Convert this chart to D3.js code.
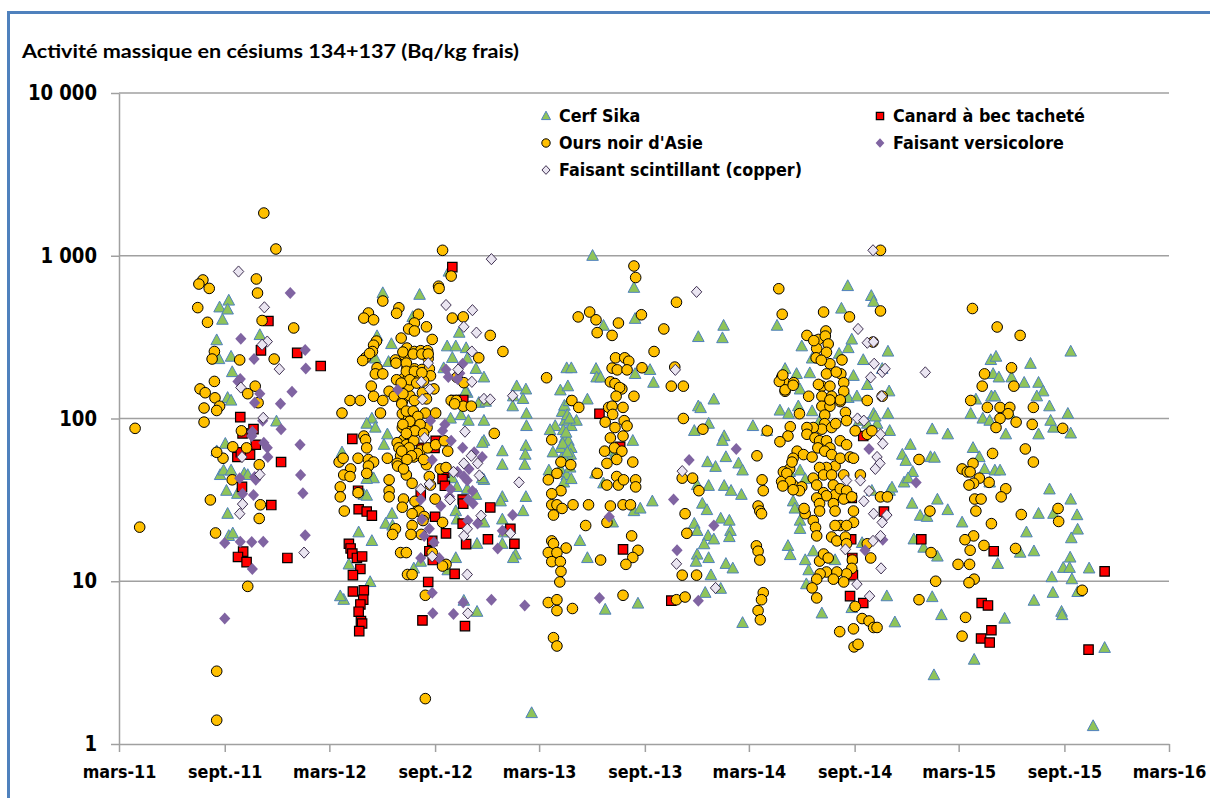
<!DOCTYPE html>
<html><head><meta charset="utf-8">
<script src="https://cdn.jsdelivr.net/npm/d3@7"></script>
<style>body{margin:0;background:#fff}svg{display:block}</style>
</head><body>
<svg id="chart" width="1210" height="798"></svg>
<script>
const chartTitle = "Activité massique en césiums 134+137 (Bq/kg frais)";
const seriesNames = ["Cerf Sika","Canard à bec tacheté","Ours noir d'Asie","Faisant versicolore","Faisant scintillant (copper)"];
const yTickValues = [1,10,100,1000,10000];
const yTickLabels = ["1","10","100","1 000","10 000"];
const xTickDates = ["2011-03-01","2011-09-01","2012-03-01","2012-09-01","2013-03-01","2013-09-01","2014-03-01","2014-09-01","2015-03-01","2015-09-01","2016-03-01"];
const xTickLabels = ["mars-11","sept.-11","mars-12","sept.-12","mars-13","sept.-13","mars-14","sept.-14","mars-15","sept.-15","mars-16"];

const cerfSika = [
["2011-09-08",531],["2011-08-23",482],["2011-09-06",468],["2011-08-28",405],["2011-08-18",303],["2011-11-01",326],["2011-08-22",232],["2011-09-12",240],["2011-09-14",193],["2011-09-06",134],["2011-09-12",129],["2011-11-30",96],["2011-09-02",70],["2011-08-18",63],["2011-08-24",45],["2011-08-30",48],["2011-09-12",48],["2011-10-05",46],["2011-10-11",45],["2011-09-04",36],["2011-09-23",34.5],["2011-09-06",26],["2011-09-08",19],["2011-09-15",19.7],
["2012-09-25",800],["2012-06-02",590],["2012-08-05",576],["2012-07-24",421],["2012-05-23",321],["2012-06-17",287],["2012-10-13",337],["2012-09-22",278],["2012-10-07",278],["2012-10-25",271],["2012-05-20",234],["2012-06-12",223],["2012-09-16",204],["2012-10-01",236],["2012-10-27",234],["2012-11-11",202],["2012-11-25",179],["2012-10-27",144],["2012-10-24",147],["2012-11-16",125],["2012-11-28",127],["2013-01-21",158],["2013-02-06",151],["2013-01-15",137],["2013-02-01",132],["2013-01-14",119],["2013-02-07",107],["2012-05-14",100],["2012-05-05",93],["2012-05-20",88],["2012-06-04",69],["2012-06-10",80],["2012-10-16",105],["2012-09-28",100],["2012-10-29",97],["2012-11-25",97],["2013-02-07",90],["2012-12-27",63],["2013-02-06",68],["2013-02-05",60],["2013-02-04",52],["2012-12-27",52],["2012-11-25",73],["2012-11-22",71],["2012-03-23",62],["2012-05-11",45],["2012-05-17",43],["2012-05-05",42.6],["2012-04-30",34],["2012-05-05",33.6],["2012-10-01",43],["2012-10-09",38],["2012-10-27",37],["2012-11-11",34],["2012-11-25",42],["2012-11-22",43],["2012-12-27",33],["2012-12-24",31],["2013-02-06",33],["2013-02-01",27],["2012-10-07",27],["2012-11-25",23],["2012-12-27",24],["2012-12-30",20],["2012-10-09",24],["2012-06-18",26],["2012-06-07",22.6],["2012-06-19",22],["2012-04-21",20],["2012-05-14",17.7],["2012-04-04",12.7],["2012-12-27",17],["2013-01-19",14.6],["2013-01-15",13.9],["2012-10-07",13.9],["2012-11-13",17],["2012-09-23",11.7],["2012-03-26",7.7],["2012-03-20",8.1],["2012-05-11",9.9],["2012-11-13",6.5],["2012-10-21",7.6],["2013-02-16",1.55],["2012-07-26",12],["2012-08-07",13.2],
["2013-06-02",1000],["2013-08-13",636],["2013-08-15",410],["2013-06-21",372],["2013-12-03",317],["2013-04-18",204],["2013-04-26",204],["2013-06-08",202],["2013-06-09",179],["2013-06-16",179],["2013-08-15",188],["2013-09-10",199],["2013-09-16",166],["2013-04-07",149],["2013-04-20",158],["2013-05-24",131],["2013-03-29",90],["2013-04-15",97],["2013-04-26",90],["2013-05-05",97],["2013-04-15",76],["2013-04-21",73],["2013-04-26",66],["2013-04-07",66],["2013-04-25",60],["2013-04-07",49],["2013-04-18",45],["2013-04-13",40.5],["2013-04-26",42.5],["2013-06-07",46],["2013-06-21",40],["2013-08-11",73],["2013-07-08",63],["2013-07-11",60],["2013-09-14",31],["2013-08-13",27],["2013-08-24",28],["2013-07-07",23],["2013-05-11",17.7],["2013-05-24",13.9],["2013-06-24",6.7],["2013-08-20",7.3],["2013-12-03",119],["2013-11-26",84],["2013-12-01",39],["2013-11-26",22.6],["2013-12-01",20.4],["2013-12-01",14.6],["2013-11-29",13.2],
["2013-04-10",110],["2013-04-14",120],["2013-04-19",105],["2013-04-22",128],["2013-04-12",85],["2013-04-17",82],["2013-04-23",100],["2013-04-09",57],["2013-04-16",55],["2013-04-24",50],["2013-04-11",70],["2013-04-19",62],["2013-03-20",85],["2013-03-25",62],["2013-03-18",48],
["2014-08-20",652],["2014-09-30",567],["2014-10-04",522],["2014-08-09",474],["2014-04-19",372],["2014-01-16",372],["2014-01-14",312],["2014-06-01",278],["2014-06-19",234],["2014-08-21",271],["2014-08-27",306],["2014-09-16",229],["2014-08-30",183],["2014-09-23",161],["2014-10-29",258],["2014-10-19",202],["2014-10-31",147],["2014-05-03",202],["2014-05-23",188],["2014-05-29",151],["2014-04-24",112],["2014-05-09",107],["2014-05-26",119],["2014-08-21",134],["2014-09-05",137],["2014-10-04",107],["2014-10-29",107],["2014-11-01",84],["2014-10-10",93],["2014-09-09",97],["2014-09-23",93],["2013-12-30",131],["2013-12-07",116],["2013-12-21",93],["2014-03-08",90],["2014-04-01",84],["2014-01-17",78],["2014-01-14",73],["2014-01-20",58],["2014-01-02",50.5],["2013-12-19",54],["2013-12-21",38.6],["2014-01-17",38.6],["2014-01-29",36],["2014-02-16",34],["2013-12-10",30],["2013-12-18",27.4],["2014-01-11",24.3],["2014-01-26",23.6],["2014-01-28",20.4],["2013-12-20",19],["2013-12-30",18.1],["2013-12-13",16.9],["2014-01-26",18.7],["2013-12-21",13.9],["2014-01-20",12.8],["2014-02-01",12],["2013-12-25",10.9],["2013-12-15",8.5],["2014-01-11",9],["2014-02-18",5.55],["2014-05-17",31],["2014-05-29",23.6],["2014-05-08",16.5],["2014-06-07",13.5],["2014-06-21",15.3],["2014-07-29",13.5],["2014-07-06",6.35],["2014-08-27",6.85],["2014-10-27",8.1],["2014-11-10",5.6],["2014-12-13",18.1],["2014-12-10",30],["2014-11-26",40.5],["2014-12-11",47],["2014-11-23",60],["2014-12-07",69],["2014-05-11",47],["2014-05-29",48],["2014-06-07",42.5],["2014-02-11",53],["2014-02-18",48],
["2014-07-01",95],["2014-06-15",190],["2014-08-05",250],["2014-06-19",111],["2014-10-07",103],["2014-11-29",55],["2014-12-03",43],["2014-11-01",36],["2014-10-01",36],["2014-05-20",28],["2014-05-29",21],["2014-05-12",14.5],["2014-06-13",11.7],["2014-06-09",9.6],["2014-09-14",17.2],
["2015-04-26",229],["2015-05-05",240],["2015-07-04",217],["2015-04-30",188],["2015-05-10",179],["2015-06-01",179],["2015-06-23",166],["2015-07-18",166],["2015-07-26",147],["2015-07-15",137],["2015-08-06",119],["2015-09-07",107],["2015-04-27",137],["2015-05-03",137],["2015-03-31",131],["2015-03-22",107],["2015-04-12",100],["2015-04-24",97],["2015-05-29",107],["2015-05-22",80],["2015-07-18",80],["2015-08-13",88],["2015-09-12",81],["2015-08-08",97],["2015-09-12",258],["2015-01-14",86],["2015-02-10",80],["2015-01-11",58],["2015-01-18",57.5],["2014-11-05",37.7],["2015-01-23",31.8],["2015-02-10",27.4],["2014-12-24",25.3],["2015-01-05",24.9],["2014-12-30",16.1],["2015-01-23",14.2],["2015-03-07",23],["2015-03-26",66],["2015-04-06",58],["2015-04-15",49],["2015-05-03",48],["2015-04-24",40.5],["2015-05-12",48],["2015-07-18",26],["2015-08-06",36.7],["2015-08-13",26],["2015-09-12",31.8],["2015-09-23",25.5],["2015-09-24",20.8],["2015-09-13",18.4],["2015-06-27",20],["2015-07-10",15.3],["2015-06-16",15],["2015-05-08",12.8],["2015-08-30",12.1],["2015-09-11",14],["2015-09-10",12.1],["2015-10-14",12],["2015-09-14",10.3],["2015-08-10",10.6],["2015-01-14",8],["2015-01-30",6.2],["2015-05-20",5.9],["2015-07-10",7.6],["2015-08-12",8.5],["2015-08-27",6.5],["2015-08-28",6.2],["2015-09-24",8.6],["2015-03-28",3.3],["2015-01-17",2.65],["2015-10-21",1.29],["2015-11-10",3.9]
];

const canard = [
["2011-11-16",397],["2011-11-03",262],["2012-01-05",253],["2012-02-15",210],["2011-09-28",102],["2011-10-21",86],["2011-10-02",81],["2011-10-25",69],["2011-10-15",60],["2011-09-23",58],["2011-09-29",62],["2011-12-08",54],["2011-10-01",38],["2011-11-21",29.4],["2011-10-03",15.2],["2011-09-24",14.1],["2011-10-09",13.1],["2011-12-19",13.9],
["2012-10-01",851],["2012-04-10",75],["2012-04-20",36],["2012-04-21",27.7],["2012-05-05",26.8],["2012-05-14",25.3],["2012-04-04",17],["2012-04-07",15.9],["2012-04-10",14.8],["2012-04-18",13.9],["2012-04-27",14.2],["2012-04-24",11.9],["2012-04-11",10.9],["2012-04-11",8.65],["2012-04-30",8.8],["2012-04-29",7.7],["2012-04-24",7.2],["2012-04-21",6.5],["2012-04-25",5.7],["2012-04-27",5.5],["2012-04-22",4.94],["2012-08-10",5.75],["2012-08-20",9.9],["2012-09-01",24.9],["2012-09-20",19.7],["2012-08-27",17.7],["2012-08-22",15.3],["2012-08-28",13.5],["2012-09-17",46.5],["2012-09-14",42.5],["2012-09-18",38.6],["2012-10-19",31.8],["2012-10-20",30],["2012-10-19",22.6],["2012-10-25",16.9],["2012-10-05",11.1],["2012-12-06",28.4],["2012-12-02",18.1],["2013-01-10",21],["2013-01-17",17],["2012-10-23",5.3],["2012-09-02",73],["2012-08-07",34],["2012-08-08",66],["2012-08-31",66],["2012-10-20",130],["2012-10-06",130],
["2013-06-14",107],["2013-07-25",15.7],["2013-10-17",7.6],["2013-07-20",67],
["2014-09-16",78],["2014-08-27",32.5],["2014-10-22",26.8],["2014-08-26",18.1],["2014-08-28",13.9],["2014-08-29",10.9],["2014-08-24",8.1],["2014-09-16",7.35],["2014-12-26",18.1],
["2015-05-01",15.3],["2015-04-10",7.35],["2015-04-21",7.1],["2015-04-27",5.0],["2015-04-09",4.45],["2015-04-24",4.2],["2015-10-13",3.8],["2015-11-10",11.5]
];

const oursNoir = [
["2011-11-08",1830],["2011-11-29",1100],["2011-07-25",710],["2011-07-18",670],["2011-08-05",630],["2011-07-16",480],["2011-08-02",390],["2011-10-26",720],["2011-10-28",590],["2011-11-05",400],["2011-12-30",360],["2011-11-26",232],["2011-09-27",229],["2011-08-14",258],["2011-08-10",232],["2011-08-14",169],["2011-07-20",152],["2011-07-29",144],["2011-08-15",134],["2011-08-23",119],["2011-08-18",112],["2011-07-27",116],["2011-07-27",95],["2011-10-24",158],["2011-10-11",142],["2011-10-29",125],["2011-03-29",87],["2011-04-06",21.5],["2011-09-30",84],["2011-09-15",67],["2011-10-09",66],["2011-08-29",57],["2011-08-18",62],["2011-10-31",52],["2011-09-14",42],["2011-08-07",31.6],["2011-11-02",29.5],["2011-10-31",24.3],["2011-08-16",19.8],["2011-10-11",9.3],["2011-08-18",2.8],["2011-08-18",1.4],
["2012-09-14",1080],["2012-09-29",750],["2012-09-07",650],["2012-09-08",630],["2012-06-02",527],["2012-06-30",479],["2012-06-26",443],["2012-05-08",445],["2012-04-30",414],["2012-05-17",404],["2012-08-03",437],["2012-07-27",386],["2012-07-17",355],["2012-07-27",345],["2012-08-17",366],["2012-10-01",414],["2012-10-20",421],["2012-08-27",306],["2012-07-04",312],["2012-12-06",324],["2012-12-28",258],["2012-05-22",299],["2012-05-17",282],["2012-05-15",258],["2012-05-03",236],["2012-07-14",271],["2012-07-27",258],["2012-08-07",261],["2012-08-19",261],["2012-06-24",229],["2012-07-10",244],["2012-08-20",234],["2012-05-23",205],["2012-05-20",188],["2012-06-02",188],["2012-07-14",204],["2012-07-08",176],["2012-07-16",175],["2012-07-27",202],["2012-08-09",200],["2012-08-22",202],["2012-08-24",183],["2012-08-12",170],["2012-07-29",183],["2012-11-16",236],["2012-10-09",179],["2012-10-21",166],["2012-05-13",158],["2012-05-17",137],["2012-06-02",129],["2012-06-13",147],["2012-06-22",137],["2012-07-06",127],["2012-07-03",151],["2012-07-19",138],["2012-07-17",158],["2012-07-27",129],["2012-04-06",129],["2012-04-24",129],["2012-03-23",108],["2012-05-29",108],["2012-08-10",144],["2012-08-17",132],["2012-08-30",152],["2012-09-29",129],["2012-10-08",129],["2012-10-20",119],["2012-11-03",119],["2012-07-06",107],["2012-07-17",100],["2012-08-01",95],["2012-08-15",108],["2012-09-02",108],["2012-04-30",78],["2012-07-06",88],["2012-07-20",86],["2012-08-04",90],["2012-08-18",88],["2012-07-08",74],["2012-06-27",71],["2012-07-13",69],["2012-07-26",73],["2012-08-07",64],["2012-08-19",66],["2012-09-02",69],["2012-09-17",73],["2012-09-23",63],["2012-12-13",81],["2012-06-10",57],["2012-06-30",66],["2012-07-03",59],["2012-07-14",62],["2012-07-26",58],["2012-08-01",61],["2012-03-18",54],["2012-03-25",57],["2012-04-20",57],["2012-05-08",56],["2012-05-17",54],["2012-05-08",51],["2012-04-07",49],["2012-03-26",45],["2012-04-06",44],["2012-03-20",38],["2012-03-20",33],["2012-04-20",35],["2012-03-27",27],["2012-06-27",53],["2012-07-13",45],["2012-07-23",40],["2012-08-22",44],["2012-08-17",52],["2012-09-10",49],["2012-09-20",50],["2012-08-24",39],["2012-06-13",42],["2012-06-13",36],["2012-07-08",32],["2012-07-28",31],["2012-08-01",27],["2012-08-04",27],["2012-08-13",25],["2012-09-01",32],["2012-06-24",21],["2012-07-23",22],["2012-09-14",23],["2012-07-03",15],["2012-07-13",15],["2012-07-15",11],["2012-07-23",11],["2012-08-27",15],["2012-09-20",12.7],["2012-09-14",12.4],["2012-08-15",8.2],["2012-08-15",1.9],
["2012-06-25",219],["2012-07-07",256],["2012-07-13",219],["2012-07-25",249],["2012-08-09",249],["2012-08-20",249],["2012-07-13",195],["2012-07-27",195],["2012-08-09",191],["2012-07-19",173],["2012-06-26",173],["2012-07-04",165],["2012-07-31",165],["2012-05-10",251],["2012-04-28",227],["2012-07-07",142],["2012-07-05",123],["2012-07-13",111],["2012-07-25",111],["2012-08-02",103],["2012-07-19",96],["2012-07-07",92],["2012-08-06",92],["2012-07-28",84],["2012-07-13",81],["2012-08-12",81],["2012-07-18",66],["2012-07-05",63],["2012-07-22",59],["2012-07-14",56],["2012-08-12",56],["2012-06-28",51],["2012-07-08",49],["2012-05-05",46],["2012-06-13",33],["2012-07-06",28.5],["2012-07-23",26],["2012-08-11",23.6],["2012-08-08",19.4],["2012-06-19",19.4],["2012-07-21",19.4],["2012-10-05",123],["2012-05-03",74],["2012-05-05",66],
["2013-08-13",865],["2013-08-16",735],["2013-10-26",518],["2013-05-08",421],["2013-05-28",451],["2013-06-08",404],["2013-07-17",386],["2013-06-10",337],["2013-07-06",324],["2013-08-26",434],["2013-10-04",355],["2013-09-17",258],["2013-03-14",178],["2013-07-12",236],["2013-07-28",236],["2013-08-04",225],["2013-07-06",204],["2013-07-15",199],["2013-08-01",199],["2013-08-27",205],["2013-07-03",168],["2013-07-11",164],["2013-07-23",152],["2013-07-19",155],["2013-07-13",137],["2013-08-13",137],["2013-10-17",158],["2013-11-07",158],["2013-10-23",207],["2013-04-27",129],["2013-05-09",117],["2013-06-30",117],["2013-07-06",119],["2013-07-25",117],["2013-07-07",106],["2013-06-24",95],["2013-07-27",97],["2013-08-01",90],["2013-07-25",78],["2013-07-03",76],["2013-07-11",88],["2013-11-07",100],["2013-12-11",86],["2013-03-23",74],["2013-06-23",63],["2013-07-10",66],["2013-07-23",63],["2013-07-14",56],["2013-06-27",53],["2013-08-11",54],["2013-04-08",54],["2013-04-25",52],["2013-04-01",46],["2013-03-17",42],["2013-04-08",36],["2013-03-23",34.5],["2013-06-10",46],["2013-06-27",39],["2013-07-14",44],["2013-07-17",39],["2013-07-26",42],["2013-08-16",42],["2013-08-16",38],["2013-03-23",29.5],["2013-04-01",29.5],["2013-04-10",28],["2013-04-29",29.5],["2013-05-26",29.5],["2013-03-26",25.5],["2013-07-03",29],["2013-07-25",29.5],["2013-08-07",29.5],["2013-11-05",43],["2013-11-23",43],["2013-12-04",36],["2013-11-10",26],["2013-11-13",19.7],["2013-05-21",22],["2013-06-27",23],["2013-08-09",19],["2013-08-20",15.5],["2013-08-11",14],["2013-07-30",12.7],["2013-06-16",13.5],["2013-03-23",17.7],["2013-03-26",17],["2013-04-17",16],["2013-03-17",15],["2013-04-01",15],["2013-03-23",13.2],["2013-04-07",13.2],["2013-04-08",11.5],["2013-04-06",9.9],["2013-03-17",7.4],["2013-04-01",7.7],["2013-04-01",6.6],["2013-04-28",6.8],["2013-03-26",4.5],["2013-04-01",4.0],["2013-07-25",8.2],["2013-10-26",7.7],["2013-11-10",8],["2013-11-05",10.9],["2013-11-30",10.9],
["2014-10-16",1080],["2014-04-22",627],["2014-04-28",437],["2014-07-09",451],["2014-08-23",421],["2014-10-16",458],["2014-06-10",324],["2014-06-30",306],["2014-07-13",345],["2014-07-12",321],["2014-07-17",287],["2014-06-27",269],["2014-06-26",236],["2014-10-03",295],["2014-08-10",229],["2014-07-20",217],["2014-07-14",188],["2014-08-08",188],["2014-08-13",166],["2014-07-06",158],["2014-07-20",158],["2014-08-13",147],["2014-07-06",137],["2014-07-23",137],["2014-07-06",119],["2014-07-20",119],["2014-08-07",127],["2014-04-27",179],["2014-05-03",166],["2014-05-18",166],["2014-05-03",147],["2014-06-13",137],["2014-05-28",107],["2014-09-23",129],["2014-10-19",137],["2014-08-16",109],["2014-08-18",97],["2014-07-11",105],["2014-07-11",93],["2014-07-06",86],["2014-07-23",88],["2014-07-30",93],["2014-06-21",88],["2014-06-10",88],["2014-06-10",80],["2014-06-24",76],["2014-07-02",73],["2014-07-14",73],["2014-07-20",66],["2014-08-07",73],["2014-08-18",69],["2014-09-02",84],["2014-09-23",80],["2014-10-01",84],["2014-05-12",89],["2014-05-08",78],["2014-04-24",72],["2014-04-02",84],["2014-03-15",59],["2014-05-24",63],["2014-06-04",60],["2014-06-19",58],["2014-06-29",66],["2014-07-11",63],["2014-07-23",60],["2014-07-29",51],["2014-07-14",50],["2014-07-02",50],["2014-06-21",43],["2014-07-09",45],["2014-07-23",45],["2014-08-07",57],["2014-08-13",45],["2014-08-24",58],["2014-08-30",57],["2014-09-11",45],["2014-05-17",57],["2014-05-11",49],["2014-04-30",47],["2014-04-27",41],["2014-05-17",39],["2014-06-01",38],["2014-06-27",39],["2014-07-09",35],["2014-07-26",39],["2014-07-29",34],["2014-08-07",37],["2014-08-18",36],["2014-07-14",33.5],["2014-06-27",32.5],["2014-07-02",30],["2014-07-26",30],["2014-07-29",27],["2014-08-13",32],["2014-08-27",33],["2014-08-30",27],["2014-08-30",23],["2014-08-07",22],["2014-08-18",22],["2014-07-29",22],["2014-07-02",27],["2014-06-21",23.6],["2014-06-25",21.4],["2014-06-27",19],["2014-07-23",18.7],["2014-08-01",17.7],["2014-08-16",18.7],["2014-08-18",17],["2014-08-28",13.5],["2014-08-27",12],["2014-08-18",11.1],["2014-08-13",9.9],["2014-08-01",11.4],["2014-07-14",11.4],["2014-07-02",13.3],["2014-07-03",11.1],["2014-07-09",14.7],["2014-07-17",13.9],["2014-07-26",10.3],["2014-06-27",10.3],["2014-06-19",9.1],["2014-06-27",7.9],["2014-06-07",26],["2014-06-05",28],["2014-09-29",13.9],["2014-09-02",7],["2014-09-14",5.9],["2014-09-26",5.7],["2014-10-04",5.2],["2014-10-10",5.2],["2014-08-30",5.1],["2014-08-06",4.9],["2014-08-31",3.95],["2014-09-07",4.1],["2014-03-17",29],["2014-03-20",27],["2014-03-23",26],["2014-03-14",16.5],["2014-03-17",15.3],["2014-03-20",13.5],["2014-03-26",8.5],["2014-03-23",7.7],["2014-03-17",6.6],["2014-03-21",5.8],["2014-03-24",42],["2014-03-26",36],["2014-10-16",33],["2014-10-28",33],["2014-12-22",56],["2014-12-22",7.7],["2014-09-23",17],
["2014-06-22",301],["2014-07-14",255],["2014-07-31",193],["2014-06-30",162],["2014-08-07",130],["2014-07-05",228],["2014-07-20",130],["2014-04-23",169],["2014-05-03",150],["2014-05-17",160],["2014-04-29",185],["2014-05-15",54],["2014-05-06",46],["2014-05-12",41],["2014-05-28",36],["2014-05-17",36.5],["2014-04-29",38.5],
["2015-03-25",474],["2015-05-07",365],["2015-06-16",324],["2015-04-15",188],["2015-04-11",158],["2015-06-01",205],["2015-06-05",158],["2015-03-22",129],["2015-04-20",117],["2015-05-12",117],["2015-05-29",117],["2015-05-26",107],["2015-05-12",100],["2015-05-05",88],["2015-06-09",95],["2015-07-09",117],["2015-07-07",92],["2015-08-29",87],["2015-04-29",61],["2015-03-26",53],["2015-03-07",49],["2015-03-16",47],["2015-03-21",47],["2015-04-06",43],["2015-03-27",40],["2015-03-19",39],["2015-04-23",40.5],["2015-05-22",37],["2015-05-14",33],["2015-03-29",32],["2015-04-09",32],["2015-03-31",27],["2015-06-25",65],["2015-07-09",54],["2015-01-10",27],["2015-01-12",15],["2015-01-20",10],["2015-03-27",19],["2015-03-12",18],["2015-03-21",15.5],["2015-04-14",16.6],["2015-04-27",22.6],["2015-02-28",12.7],["2015-03-20",12.7],["2015-03-28",10.3],["2015-03-19",9.8],["2015-03-13",6],["2015-03-07",4.6],["2015-06-08",15.9],["2015-06-18",25.7],["2015-08-21",28],["2015-08-22",23.3],["2015-10-02",8.8]
];

const faisantVersicolore = [
["2011-12-24",590],["2011-09-29",309],["2012-01-19",264],["2011-10-22",232],["2012-01-20",203],["2011-09-28",175],["2011-09-24",169],["2011-11-01",142],["2011-10-23",125],["2011-12-27",146],["2011-12-07",123],["2011-11-06",97],["2011-12-08",86],["2011-10-19",83],["2011-10-18",78],["2011-11-08",71],["2011-11-14",66],["2011-11-15",58],["2012-01-10",69],["2012-01-11",45],["2012-01-15",34.7],["2011-09-27",43],["2011-10-23",43.7],["2011-10-25",42],["2011-10-02",34.5],["2011-10-21",33.9],["2012-01-19",19.2],["2011-09-01",17.2],["2011-09-28",17.5],["2011-10-18",17.4],["2011-11-07",17.5],["2011-10-19",11.9],["2011-09-01",5.9],
["2012-10-19",217],["2012-06-28",150],["2012-08-24",97],["2012-09-18",92],["2012-09-14",84],["2012-09-29",73],["2012-10-19",66],["2012-11-08",62],["2012-11-22",58],["2012-08-27",55.6],["2012-10-10",47],["2012-10-30",49],["2012-10-27",41.6],["2012-11-05",35.8],["2012-10-29",31.8],["2012-11-06",30],["2012-08-07",31.8],["2012-09-11",29],["2012-09-28",36.7],["2012-11-14",22.6],["2012-10-28",23.6],["2012-12-19",15.9],["2013-01-14",25.5],["2012-12-27",20.4],["2012-08-13",19],["2012-08-22",21],["2012-08-30",17.3],["2012-08-07",13.9],["2012-09-08",13.9],["2012-08-27",8.5],["2012-08-28",6.35],["2012-10-03",6.3],["2012-10-20",7.4],["2012-12-08",7.7],["2013-02-04",7.1],
["2012-09-20",200],["2012-10-10",175],["2012-10-14",190],["2012-09-24",180],["2012-10-21",44],["2012-09-26",33],["2012-08-09",24],
["2013-06-14",7.9],["2013-10-21",31.8],["2013-10-27",15.5],["2013-11-17",55.6],["2013-12-03",7.6],["2013-12-30",22],["2013-07-01",24.9],
["2014-02-07",65],["2014-09-26",65],["2014-10-20",18],["2014-09-19",15.5],["2014-12-17",40.5]
];

const faisantScintillant = [
["2011-09-25",800],["2011-11-09",482],["2011-11-14",297],["2011-11-05",284],["2011-12-05",201],["2011-09-29",155],["2011-11-07",101],["2011-10-01",58],["2011-11-01",45.3],["2011-10-02",29.8],["2011-09-27",26],["2012-01-17",15],
["2012-12-08",953],["2012-09-20",498],["2012-11-05",463],["2012-10-21",366],["2012-11-12",337],["2012-11-04",258],["2012-10-11",200],["2012-11-04",168],["2012-11-25",132],["2012-12-06",131],["2013-01-14",138],["2012-08-20",219],["2012-08-08",168],["2012-08-23",151],["2012-08-10",131],["2012-10-23",83],["2012-08-14",76],["2012-11-03",59],["2012-11-14",53],["2012-10-21",53],["2012-11-17",44.7],["2012-10-03",47],["2012-08-22",39.6],["2013-01-25",40.5],["2012-09-27",31.8],["2012-11-20",25.3],["2012-08-07",36.8],["2012-10-27",21],["2012-10-21",19],["2013-01-10",19.7],["2012-08-27",14.2],["2012-10-27",11],["2012-10-28",6.35],
["2013-11-30",600],["2013-10-24",199],["2013-11-05",47.5],["2013-10-26",12.8],["2014-01-02",9.1],
["2014-10-03",1080],["2014-09-07",355],["2014-09-23",292],["2014-10-04",296],["2014-10-05",217],["2014-09-29",179],["2014-10-19",193],["2014-10-24",202],["2014-09-06",100],["2014-09-17",97],["2014-10-16",80],["2014-10-20",70],["2014-10-10",58],["2014-10-15",53],["2014-10-07",49],["2014-08-18",41.6],["2014-09-11",41.6],["2014-09-26",35.8],["2014-09-17",31],["2014-10-04",26],["2014-10-19",23],["2014-10-27",25.5],["2014-10-16",19],["2014-10-03",17.7],["2014-08-16",15.7],["2014-10-17",12],["2014-09-05",9.6],["2014-09-27",8.1],["2015-01-02",192],["2014-10-18",137]
];

const parseDate = d3.timeParse("%Y-%m-%d");
const svg = d3.select("#chart");
const W = 1210, H = 798;
const pLeft = 119, pRight = 1169, pTop = 93, pBottom = 744;

const x = d3.scaleTime().domain([parseDate(xTickDates[0]), parseDate(xTickDates[xTickDates.length-1])]).range([pLeft, pRight]);
const y = d3.scaleLog().domain([1, 10000]).range([pBottom, pTop]);

svg.append("rect").attr("width", W).attr("height", H).attr("fill", "#fff");
svg.append("rect").attr("x", 8.5).attr("y", 12.5).attr("width", W + 20).attr("height", H + 20)
  .attr("fill", "none").attr("stroke", "#4F81BD").attr("stroke-width", 3);

svg.append("text").attr("x", 22).attr("y", 58).text(chartTitle)
  .attr("font-family", "Lato, 'Open Sans', sans-serif").attr("font-weight", "bold")
  .attr("font-size", 18.5).attr("fill", "#000")
  .attr("textLength", 497).attr("lengthAdjust", "spacingAndGlyphs");

const gray = "#A0A0A0";
svg.append("g").selectAll("line").data(yTickValues.filter(v => v > 1)).join("line")
  .attr("x1", pLeft).attr("x2", pRight)
  .attr("y1", d => y(d)).attr("y2", d => y(d))
  .attr("stroke", gray).attr("stroke-width", 1.5);

const yAxis = d3.axisLeft(y).tickValues(yTickValues)
  .tickFormat((d, i) => yTickLabels[i]).tickSizeInner(8).tickSizeOuter(0).tickPadding(14);
const gy = svg.append("g").attr("transform", `translate(${pLeft},0)`).call(yAxis);
gy.select(".domain").attr("stroke", gray).attr("stroke-width", 1.5);
gy.selectAll(".tick line").attr("stroke", gray).attr("stroke-width", 1.5);
gy.selectAll(".tick text").attr("font-family", "'DejaVu Sans', sans-serif")
  .attr("font-weight", "bold").attr("font-size", 21).attr("fill", "#000")
  .each(function() {
    const w = this.getComputedTextLength();
    d3.select(this).attr("textLength", w * 0.86).attr("lengthAdjust", "spacingAndGlyphs");
  });

const xAxis = d3.axisBottom(x).tickValues(xTickDates.map(parseDate))
  .tickFormat((d, i) => xTickLabels[i]).tickSizeInner(8).tickSizeOuter(0).tickPadding(14);
const gx = svg.append("g").attr("transform", `translate(0,${pBottom})`).call(xAxis);
gx.select(".domain").attr("stroke", gray).attr("stroke-width", 1.5);
gx.selectAll(".tick line").attr("stroke", gray).attr("stroke-width", 1.5);
gx.selectAll(".tick text").attr("font-family", "'DejaVu Sans', sans-serif")
  .attr("font-weight", "bold").attr("font-size", 17).attr("fill", "#000")
  .each(function() {
    const w = this.getComputedTextLength();
    d3.select(this).attr("textLength", w * 0.94).attr("lengthAdjust", "spacingAndGlyphs");
  });

const styles = [
  {name: seriesNames[0], data: cerfSika, path: s => `M0,${-6.2*s}L${5.8*s},${4.6*s}L${-5.8*s},${4.6*s}Z`, fill: "#8FC459", stroke: "#4F81BD", sw: 1},
  {name: seriesNames[1], data: canard, path: s => `M${-4.7*s},${-4.7*s}H${4.7*s}V${4.7*s}H${-4.7*s}Z`, fill: "#FF0000", stroke: "#000", sw: 1.2},
  {name: seriesNames[2], data: oursNoir, circle: true, r: 5.3, fill: "#FFC000", stroke: "#000", sw: 1},
  {name: seriesNames[3], data: faisantVersicolore, path: s => `M0,${-6*s}L${5.6*s},0L0,${6*s}L${-5.6*s},0Z`, fill: "#8064A2", stroke: "none", sw: 0},
  {name: seriesNames[4], data: faisantScintillant, path: s => `M0,${-5.6*s}L${5.2*s},0L0,${5.6*s}L${-5.2*s},0Z`, fill: "#EAE5F1", stroke: "#3F3151", sw: 1}
];

styles.forEach(st => {
  const g = svg.append("g");
  if (st.circle) {
    g.selectAll("circle").data(st.data).join("circle")
      .attr("cx", d => x(parseDate(d[0]))).attr("cy", d => y(d[1])).attr("r", st.r)
      .attr("fill", st.fill).attr("stroke", st.stroke).attr("stroke-width", st.sw);
  } else {
    g.selectAll("path").data(st.data).join("path")
      .attr("transform", d => `translate(${x(parseDate(d[0]))},${y(d[1])})`)
      .attr("d", st.path(1))
      .attr("fill", st.fill).attr("stroke", st.stroke).attr("stroke-width", st.sw);
  }
});

const legendPos = [[546,116],[880,116],[546,143],[880,143],[546,170]];
const lg = svg.append("g");
styles.forEach((st, i) => {
  const [lx, ly] = legendPos[i];
  if (st.circle) {
    lg.append("circle").attr("cx", lx).attr("cy", ly).attr("r", 4.2)
      .attr("fill", st.fill).attr("stroke", st.stroke).attr("stroke-width", st.sw);
  } else {
    lg.append("path").attr("transform", `translate(${lx},${ly})`).attr("d", st.path(0.78))
      .attr("fill", st.fill).attr("stroke", st.stroke).attr("stroke-width", st.sw);
  }
  lg.append("text").attr("x", lx + 13).attr("y", ly + 6).text(st.name)
    .attr("font-family", "'DejaVu Sans', sans-serif").attr("font-weight", "bold")
    .attr("font-size", 17).attr("fill", "#000")
    .each(function() {
      const w = this.getComputedTextLength();
      d3.select(this).attr("textLength", w * 0.94).attr("lengthAdjust", "spacingAndGlyphs");
    });
});
</script>
</body></html>
